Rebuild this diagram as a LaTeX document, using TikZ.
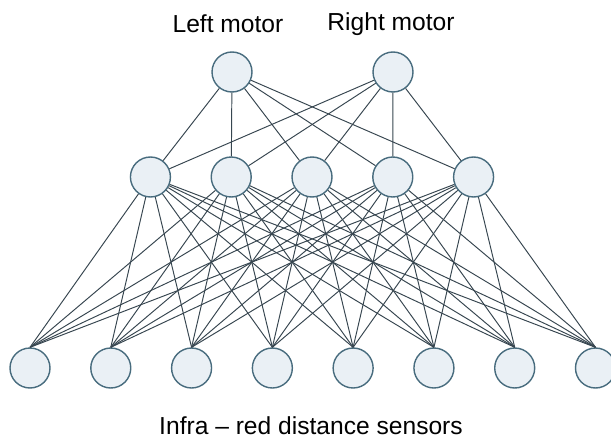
\documentclass[tikz,border=0pt]{standalone}
\usepackage{fontspec}
\setmainfont{Liberation Sans}
\usetikzlibrary{positioning}
\definecolor{neuronfill}{RGB}{234,240,245}
\definecolor{neuronborder}{RGB}{72,108,126}
\definecolor{synapsecol}{RGB}{55,70,80}
\tikzstyle{neuron} = [draw=neuronborder, fill=neuronfill, circle,
   minimum size=0.8cm, inner sep=0, line width=0.8pt]
\tikzstyle{synapse} = [draw=synapsecol, line width=0.55pt]
\tikzstyle{layername} = [font=\fontsize{14}{16}\selectfont, inner sep=0]

\begin{document}
\begin{tikzpicture}[x=0.02cm, y=-0.02cm, node distance=1.616cm]
	  \useasboundingbox (0,0) rectangle (611,439);
	  % hidden layer
	  \node[neuron] (h3) at (312,177) {};
	  \node[neuron, left of=h3] (h2) {};
	  \node[neuron, left of=h2] (h1) {};
	  \node[neuron, right of=h3] (h4) {};
	  \node[neuron, right of=h4] (h5) {};

	  % motors
	  \node[neuron] (lm) at (232,72) {};
	  \node[neuron] (rm) at (393,72) {};
	  \node[layername] (lmname) at (228,24) {Left motor};
	  \node[layername] (rmname) at (391,24) {Right motor};

	  % sensors
	  \node[neuron] (s1) at (30,368) {};
	  \foreach \i [count=\j from 2] in {1,...,7}
	    \node[neuron, right of=s\i] (s\j) {};
	  \node[layername] (sname) at (311,426) {Infra -- red distance sensors};

	  % connections
	  \foreach \m in {lm,rm}
	    \foreach \h in {1,...,5}
	      \draw[synapse] (\m) -- (h\h);
	  \foreach \h in {1,...,5}
	    \foreach \s in {1,...,8}
	      \draw[synapse] (h\h) -- (s\s.north);
	\end{tikzpicture}
\end{document}
